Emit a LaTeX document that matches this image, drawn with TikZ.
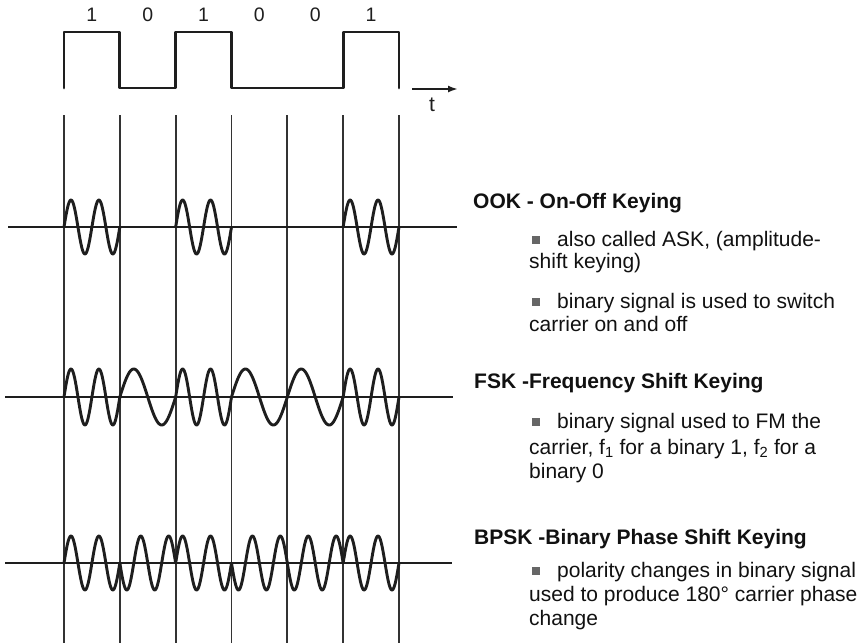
\documentclass[tikz,border=0pt]{standalone}
\usepackage{fontspec}
\setmainfont{Liberation Sans}
\usetikzlibrary{arrows.meta}
\definecolor{ink}{HTML}{1E1E1E}
\definecolor{gridc}{HTML}{333333}
\definecolor{txt}{HTML}{111111}
\definecolor{bulc}{HTML}{666666}
\begin{document}
\begin{tikzpicture}[x=1pt,y=-1pt,
  wave/.style={line width=2.9pt, color=ink, line join=round, line cap=round},
  gridline/.style={line width=1.8pt, color=gridc},
  axisline/.style={line width=2.2pt, color=ink},
  head/.style={anchor=base west, inner sep=0pt, font=\fontsize{21}{23}\selectfont\bfseries, text=txt},
  body/.style={anchor=base west, inner sep=0pt, font=\fontsize{21}{23}\selectfont, text=txt},
  bitlab/.style={font=\fontsize{19.5}{20}\selectfont, text=ink, inner sep=0pt},
  bul/.style={fill=bulc, draw=none, minimum size=8.5pt, inner sep=0pt}]
\useasboundingbox (0,0) rectangle (866,643);
\fill[white] (0,0) rectangle (866,643);

% bit boundary coordinates
\foreach \i in {0,...,6} {
  \coordinate (top\i) at ({64+55.83*\i},115);
  \coordinate (bot\i) at ({64+55.83*\i},643);
  \draw[gridline] (top\i) -- (bot\i);
}

% data signal
\draw[wave] (64,88) -- (64,32) -- ({64+55.83},32) -- ({64+55.83},88) -- ({64+2*55.83},88)
  -- ({64+2*55.83},32) -- ({64+3*55.83},32) -- ({64+3*55.83},88) -- ({64+5*55.83},88)
  -- ({64+5*55.83},32) -- (399,32) -- (399,88);
\foreach \i/\b in {0/1,1/0,2/1,3/0,4/0,5/1}
  \node[bitlab] (bit\i) at ({64+55.83*(\i+0.5)},15) {\b};

% time axis
\coordinate (ta) at (412,89);
\coordinate (tb) at (458,89);
\draw[axisline, -{Latex[length=10pt,width=7pt]}] (ta) -- (tb);
\node[font=\fontsize{21}{22}\selectfont, text=ink, inner sep=0pt] (tlab) at (432,105) {t};

% OOK
\coordinate (ook0) at (8,227); \coordinate (ook1) at (457,227);
\draw[axisline] (ook0) -- (ook1);
\foreach \i in {0,2,5}
  \draw[wave] plot[domain=0:1, samples=90, smooth] ({64+55.83*(\i+\x)},{227-27*sin(720*\x)});

% FSK
\coordinate (fsk0) at (5,397); \coordinate (fsk1) at (453,397);
\draw[axisline] (fsk0) -- (fsk1);
\foreach \i/\f in {0/2,1/1,2/2,3/1,4/1,5/2}
  \draw[wave] plot[domain=0:1, samples=90, smooth] ({64+55.83*(\i+\x)},{397-28*sin(360*\f*\x)});

% BPSK
\coordinate (psk0) at (5,563); \coordinate (psk1) at (452,563);
\draw[axisline] (psk0) -- (psk1);
\foreach \i/\s in {0/1,1/-1,2/1,3/-1,4/-1,5/1}
  \draw[wave] plot[domain=0:1, samples=90, smooth] ({64+55.83*(\i+\x)},{563-27*\s*sin(720*\x)});

% text
\node[head] (h1) at (473,208) {OOK - On-Off Keying};
\node[bul] (u1) at (536,240) {};
\node[body] (t11) at (557,246) {also called ASK, (amplitude-};
\node[body] (t12) at (529,268) {shift keying)};
\node[bul] (u2) at (536,302) {};
\node[body] (t21) at (557,308) {binary signal is used to switch};
\node[body] (t22) at (529,331) {carrier on and off};

\node[head] (h2) at (474,388) {FSK -Frequency Shift Keying};
\node[bul] (u3) at (536,422) {};
\node[body] (t31) at (557,428) {binary signal used to FM the};
\node[body] (t32) at (529,454) {carrier, f\textsubscript{1} for a binary 1, f\textsubscript{2} for a};
\node[body] (t33) at (529,478) {binary 0};

\node[head] (h3) at (474,544) {BPSK -Binary Phase Shift Keying};
\node[bul] (u4) at (536,571) {};
\node[body] (t41) at (557,577) {polarity changes in binary signal};
\node[body] (t42) at (529,601) {used to produce 180° carrier phase};
\node[body] (t43) at (529,625) {change};
\end{tikzpicture}
\end{document}
